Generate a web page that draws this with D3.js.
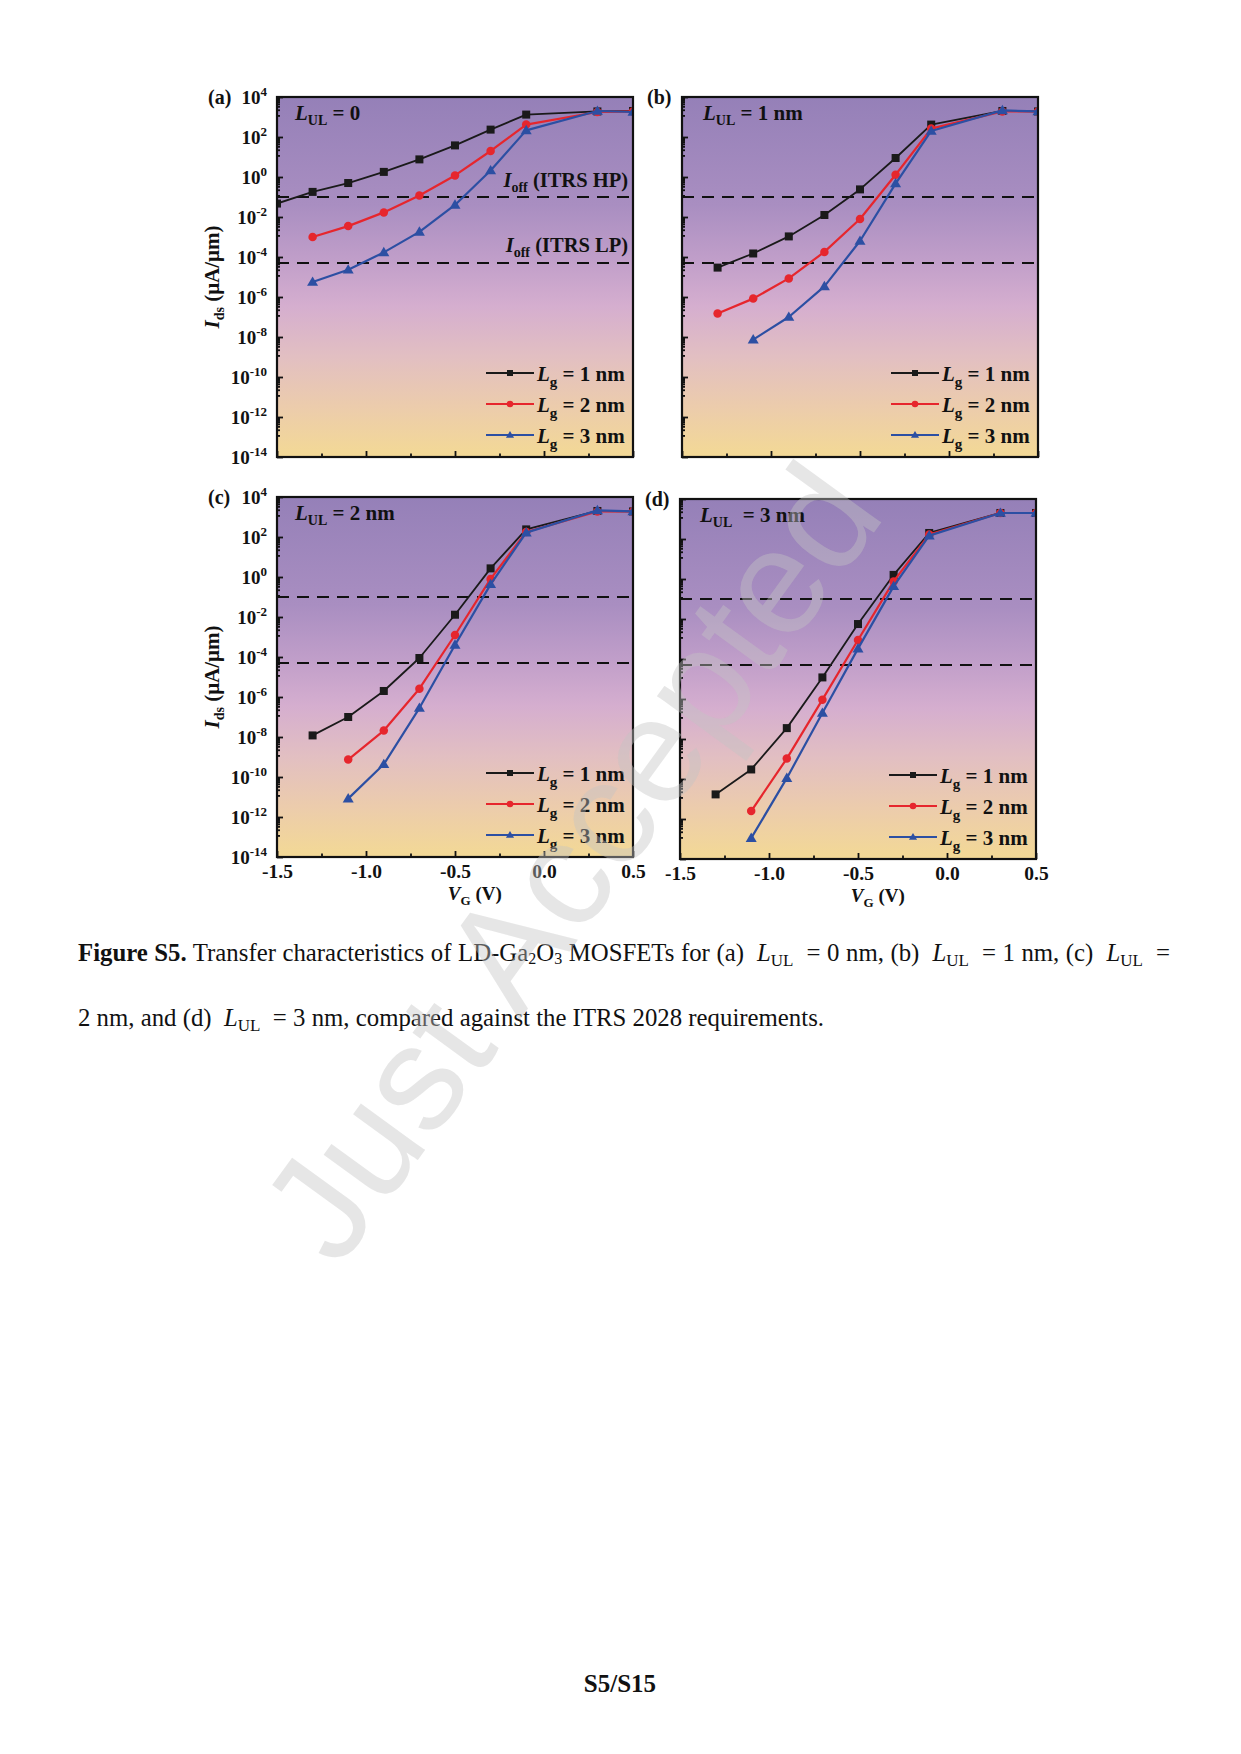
<!DOCTYPE html>
<html><head><meta charset="utf-8">
<script src="https://cdn.jsdelivr.net/npm/d3@7/dist/d3.min.js"></script>
<style>body{margin:0;background:#fff} svg{display:block} text{white-space:pre}</style>
</head><body>
<svg id="page" width="1241" height="1754"></svg>
<script>
// ---------------- data ----------------
const vg = [-1.5, -1.3, -1.1, -0.9, -0.7, -0.5, -0.3, -0.1, 0.3, 0.5];
const lgLabels = ["1 nm", "2 nm", "3 nm"];
const panelLabels = ["(a)", "(b)", "(c)", "(d)"];
const lulLabels = [" = 0", " = 1 nm", " = 2 nm", "  = 3 nm"];
const yTickExps = [4, 2, 0, -2, -4, -6, -8, -10, -12, -14];
const xTicks = [-1.5, -1.0, -0.5, 0.0, 0.5];
const xMinorTicks = [-1.25, -0.75, -0.25, 0.25];
const xTickLabels = ["-1.5", "-1.0", "-0.5", "0.0", "0.5"];
const ioffHP = 1e-1;
const ioffLP = 5e-5;

// Ids (uA/um) for Lg = 1, 2, 3 nm ; null = no point
const a_lg1 = [4.7e-2, 0.18, 0.5, 1.8, 7.6, 38, 234, 1320, 1900, 2000];
const a_lg2 = [null, 1.0e-3, 3.5e-3, 1.7e-2, 0.12, 1.2, 20, 417, 1780, 1900];
const a_lg3 = [null, 5.6e-6, 2.3e-5, 1.7e-4, 1.8e-3, 4.0e-2, 2.1, 214, 2000, 1780];

const b_lg1 = [null, 2.95e-5, 1.5e-4, 1.07e-3, 1.26e-2, 0.24, 8.9, 417, 2000, 1900];
const b_lg2 = [null, 1.5e-7, 8.3e-7, 8.5e-6, 1.8e-4, 7.9e-3, 1.3, 263, 1900, 1900];
const b_lg3 = [null, null, 7.4e-9, 1.0e-7, 3.4e-6, 6.3e-4, 0.47, 200, 2140, 1900];

const c_lg1 = [null, 1.2e-8, 1.0e-7, 2.0e-6, 8.9e-5, 1.3e-2, 2.7, 240, 2000, 1900];
const c_lg2 = [null, null, 7.4e-10, 2.1e-8, 2.6e-6, 1.26e-3, 0.8, 178, 1900, 1900];
const c_lg3 = [null, null, 8.3e-12, 4.3e-10, 2.8e-7, 4.0e-4, 0.43, 166, 2140, 1900];

const d_lg1 = [null, 1.7e-11, 3.0e-10, 3.5e-8, 1.2e-5, 5.6e-3, 1.6, 200, 2000, 2000];
const d_lg2 = [null, null, 2.5e-12, 1.05e-9, 9.3e-7, 8.9e-4, 0.76, 166, 2000, 2000];
const d_lg3 = [null, null, 1.1e-13, 1.1e-10, 2.0e-7, 3.3e-4, 0.43, 148, 2000, 2000];

// ---------------- drawing ----------------
const svg = d3.select('#page');
const defs = svg.append('defs');
const grad = defs.append('linearGradient').attr('id', 'bg')
  .attr('x1', 0).attr('y1', 0).attr('x2', 0).attr('y2', 1);
[[0, '#9580b8'], [0.3, '#a98ec1'], [0.45, '#c09ec9'], [0.58, '#d5aecf'],
 [0.72, '#e2bfc2'], [0.86, '#ecccac'], [1, '#f3d995']].forEach(s =>
  grad.append('stop').attr('offset', s[0]).attr('stop-color', s[1]));

const W = 356, H = 360;
const FONT = "'Liberation Serif', 'Times New Roman', serif";
const colors = ['#1a1a1a', '#e6262d', '#2c4fa3'];
const widths = [1.8, 2.2, 2.2];

const panels = [
  { data: [a_lg1, a_lg2, a_lg3], x0: 277, y0: 97, yLab: true, xLab: false, ioffText: true, lx: 18 },
  { data: [b_lg1, b_lg2, b_lg3], x0: 682, y0: 97, yLab: false, xLab: false, ioffText: false, lx: 21 },
  { data: [c_lg1, c_lg2, c_lg3], x0: 277, y0: 497, yLab: true, xLab: true, ioffText: false, lx: 18 },
  { data: [d_lg1, d_lg2, d_lg3], x0: 680, y0: 499, yLab: false, xLab: true, ioffText: false, lx: 20 }
];

function marker(sel, k, s) {
  if (k === 0) {
    sel.append('rect').attr('x', -s / 2).attr('y', -s / 2).attr('width', s).attr('height', s).attr('fill', colors[0]);
  } else if (k === 1) {
    sel.append('circle').attr('r', s / 2).attr('fill', colors[1]);
  } else {
    const h = s * 0.95;
    sel.append('path').attr('d', `M0,${-h * 0.62}L${s * 0.58},${h * 0.42}L${-s * 0.58},${h * 0.42}Z`).attr('fill', colors[2]);
  }
}

panels.forEach((p, pi) => {
  const x = d3.scaleLinear().domain([-1.5, 0.5]).range([0, W]);
  const y = d3.scaleLog().domain([1e-14, 1e4]).range([H, 0]);
  const g = svg.append('g').attr('transform', `translate(${p.x0},${p.y0})`);

  g.append('rect').attr('width', W).attr('height', H).attr('fill', 'url(#bg)');
  defs.append('clipPath').attr('id', 'clip' + pi).append('rect').attr('width', W).attr('height', H);
  const pg = g.append('g').attr('clip-path', `url(#clip${pi})`);

  // ITRS dashed lines
  [ioffHP, ioffLP].forEach(v => {
    pg.append('line').attr('x1', 0).attr('x2', W).attr('y1', y(v)).attr('y2', y(v))
      .attr('stroke', '#111').attr('stroke-width', 2.1).attr('stroke-dasharray', '12,8');
  });

  // series
  p.data.forEach((vals, k) => {
    const pts = vg.map((v, i) => ({ v, i: vals[i] })).filter(d => d.i != null);
    const line = d3.line().x(d => x(d.v)).y(d => y(d.i));
    pg.append('path').attr('d', line(pts)).attr('fill', 'none')
      .attr('stroke', colors[k]).attr('stroke-width', widths[k]).attr('stroke-linejoin', 'round');
    const ms = [8, 8.5, 9.5][k];
    pts.forEach(d => {
      const m = pg.append('g').attr('transform', `translate(${x(d.v)},${y(d.i)})`);
      marker(m, k, ms);
    });
  });

  // axes: left major & minor
  const yMajor = yTickExps.map(e => Math.pow(10, e));
  const yMinor = [];
  yTickExps.slice(1).forEach(e => {
    for (let k = 1; k <= 8; k++) yMinor.push(Math.pow(10, e) * (1 + 11 * k));
  });
  const styleAxis = ax => { ax.select('.domain').remove(); ax.selectAll('line').attr('stroke', '#111').attr('stroke-width', 1.8); };
  g.append('g').call(d3.axisLeft(y).tickValues(yMajor).tickSize(-6).tickFormat('')).call(styleAxis);
  g.append('g').call(d3.axisLeft(y).tickValues(yMinor).tickSize(-3).tickFormat('')).call(styleAxis);

  if (p.yLab) {
    const lab = g.append('g').attr('font-family', FONT).attr('font-weight', 'bold').attr('font-size', 19).attr('fill', '#111');
    yTickExps.forEach(e => {
      const t = lab.append('text').attr('x', -10).attr('y', y(Math.pow(10, e))).attr('dy', '0.35em').attr('text-anchor', 'end');
      t.append('tspan').text('10');
      t.append('tspan').attr('dy', -8).attr('font-size', 13).text(String(e));
    });
    const yt = g.append('text').attr('transform', `translate(-58,${H / 2}) rotate(-90)`)
      .attr('text-anchor', 'middle').attr('font-family', FONT).attr('font-weight', 'bold').attr('font-size', 21).attr('fill', '#111');
    yt.append('tspan').attr('font-style', 'italic').text('I');
    yt.append('tspan').attr('font-size', 14).attr('dy', 5).text('ds');
    yt.append('tspan').attr('dy', -5).text(' (μA/μm)');
  }

  // bottom axis
  const bx = g.append('g').attr('transform', `translate(0,${H})`)
    .call(d3.axisBottom(x).tickValues(xTicks).tickSize(-6).tickPadding(7)
      .tickFormat((d, i) => p.xLab ? xTickLabels[i] : ''))
    .call(styleAxis);
  bx.attr('font-family', FONT).attr('font-weight', 'bold').attr('font-size', 19.5);
  bx.selectAll('text').attr('fill', '#111');
  g.append('g').attr('transform', `translate(0,${H})`)
    .call(d3.axisBottom(x).tickValues(xMinorTicks).tickSize(-3.5).tickFormat('')).call(styleAxis);

  if (p.xLab) {
    const xt = g.append('text').attr('x', x(-0.4) + 2).attr('y', H + 43).attr('text-anchor', 'middle')
      .attr('font-family', FONT).attr('font-weight', 'bold').attr('font-size', 19).attr('fill', '#111');
    xt.append('tspan').attr('font-style', 'italic').text('V');
    xt.append('tspan').attr('font-size', 13).attr('dy', 5).text('G');
    xt.append('tspan').attr('dy', -5).text(' (V)');
  }

  // frame
  g.append('rect').attr('width', W).attr('height', H).attr('fill', 'none')
    .attr('stroke', '#111').attr('stroke-width', 2.2);

  // panel label
  g.append('text').attr('x', p.yLab ? -69 : -35).attr('y', 7).attr('font-family', FONT)
    .attr('font-weight', 'bold').attr('font-size', 20).attr('fill', '#111').text(panelLabels[pi]);

  // L_UL label
  const lt = g.append('text').attr('x', p.lx).attr('y', 23).attr('font-family', FONT)
    .attr('font-weight', 'bold').attr('font-size', 21).attr('fill', '#111');
  lt.append('tspan').attr('font-style', 'italic').text('L');
  lt.append('tspan').attr('font-size', 14).attr('dy', 5).text('UL');
  lt.append('tspan').attr('dy', -5).text(lulLabels[pi]);

  // Ioff labels
  if (p.ioffText) {
    [[ioffHP, ' (ITRS HP)', -10], [ioffLP, ' (ITRS LP)', -11]].forEach(r => {
      const t = g.append('text').attr('x', W - 5).attr('y', y(r[0]) + r[2]).attr('text-anchor', 'end')
        .attr('font-family', FONT).attr('font-weight', 'bold').attr('font-size', 20.5).attr('fill', '#111');
      t.append('tspan').attr('font-style', 'italic').text('I');
      t.append('tspan').attr('font-size', 14).attr('dy', 5).text('off');
      t.append('tspan').attr('dy', -5).text(r[1]);
    });
  }

  // legend
  lgLabels.forEach((lbl, k) => {
    const ly = 276 + k * 31;
    const lg = g.append('g').attr('transform', `translate(0,${ly})`);
    lg.append('line').attr('x1', W - 147).attr('x2', W - 99).attr('stroke', colors[k]).attr('stroke-width', widths[k]);
    const m = lg.append('g').attr('transform', `translate(${W - 123},0)`);
    marker(m, k, [6, 6.5, 7][k]);
    const t = lg.append('text').attr('x', W - 96).attr('y', 8).attr('font-family', FONT)
      .attr('font-weight', 'bold').attr('font-size', 21).attr('fill', '#111');
    t.append('tspan').attr('font-style', 'italic').text('L');
    t.append('tspan').attr('font-size', 15).attr('dy', 6).text('g');
    t.append('tspan').attr('dy', -6).text(' = ' + lbl);
  });
});

// ---------------- caption ----------------
function capLine(yPos, parts, justifyTo) {
  const t = svg.append('text').attr('x', 78).attr('y', yPos).attr('font-family', FONT)
    .attr('font-size', 24.8).attr('fill', '#111');
  parts.forEach(pt => {
    const s = t.append('tspan').text(pt.t);
    if (pt.b) s.attr('font-weight', 'bold');
    if (pt.i) s.attr('font-style', 'italic');
    if (pt.fs) s.attr('font-size', pt.fs);
    if (pt.dy) s.attr('dy', pt.dy);
  });
  if (justifyTo) {
    const len = t.node().getComputedTextLength();
    const n = parts.map(p => (p.t.match(/ /g) || []).length).reduce((a, b) => a + b, 0);
    t.attr('word-spacing', Math.max(0, (justifyTo - len) / n));
  }
  return t;
}
const LUL = [{ t: 'L', i: true }, { t: 'UL', fs: 17, dy: 5 }];
capLine(961, [
  { t: 'Figure S5.', b: true },
  { t: ' Transfer characteristics of LD-Ga' }, { t: '2', fs: 16, dy: 3 }, { t: 'O', dy: -3 }, { t: '3', fs: 16, dy: 3 },
  { t: ' MOSFETs for (a)  ', dy: -3 }, ...LUL, { t: '  = 0 nm, (b)  ', dy: -5 }, ...LUL,
  { t: '  = 1 nm, (c)  ', dy: -5 }, ...LUL, { t: '  =', dy: -5 }
], 1092);
capLine(1026, [
  { t: '2 nm, and (d)  ' }, ...LUL, { t: '  = 3 nm, compared against the ITRS 2028 requirements.', dy: -5 }
]);

// page number
svg.append('text').attr('x', 620).attr('y', 1692).attr('text-anchor', 'middle').attr('font-family', FONT)
  .attr('font-weight', 'bold').attr('font-size', 25).attr('fill', '#111').text('S5/S15');

// watermark
svg.append('text').attr('transform', 'translate(338,1270) rotate(-54)')
  .attr('font-family', "'Liberation Sans', Arial, sans-serif").attr('font-size', 150)
  .attr('fill', 'rgb(196,196,196)').attr('fill-opacity', 0.42).text('Just Accepted');
</script>
</body></html>
